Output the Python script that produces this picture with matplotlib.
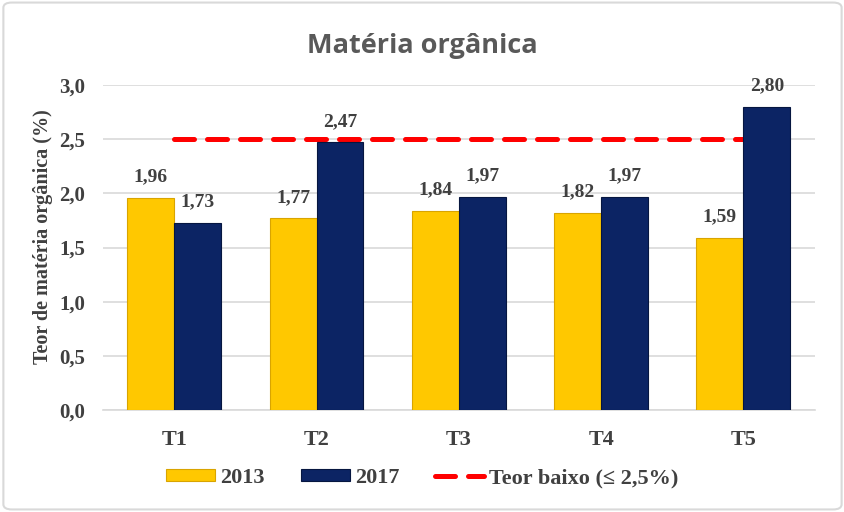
import matplotlib.pyplot as plt
import numpy as np
from matplotlib.patches import FancyBboxPatch

# Data
categories = ['T1', 'T2', 'T3', 'T4', 'T5']
vals_2013 = [1.96, 1.77, 1.84, 1.82, 1.59]
vals_2017 = [1.73, 2.47, 1.97, 1.97, 2.80]
limit = [2.5, 2.5, 2.5, 2.5, 2.5]
yticks = [0.0, 0.5, 1.0, 1.5, 2.0, 2.5, 3.0]

SERIF = 'Liberation Serif'
GRAY = '#404040'

fig = plt.figure(figsize=(8.45, 5.12), dpi=100)
ax = fig.add_axes([0.122, 0.199, 0.842, 0.635])

# chart border
fig.patches.append(FancyBboxPatch((0.004, 0.005), 0.992, 0.99,
                                  boxstyle='round,pad=0,rounding_size=0.01',
                                  transform=fig.transFigure, fill=False,
                                  edgecolor='#D9D9D9', linewidth=1.5))

x = np.arange(len(categories))
w = 0.33

b1 = ax.bar(x - w / 2, vals_2013, w, color='#FFC800', edgecolor='#D9A400',
            linewidth=0.8, zorder=3, label='2013')
b2 = ax.bar(x + w / 2, vals_2017, w, color='#0C2464', edgecolor='#061640',
            linewidth=0.8, zorder=3, label='2017')
ax.plot(x, limit, color='#FF0000', linewidth=3.6, dashes=(4, 2.6),
        dash_capstyle='round', zorder=2, label='Teor baixo (\u2264 2,5%)')

for bars, vals in ((b1, vals_2013), (b2, vals_2017)):
    for b, v in zip(bars, vals):
        ax.annotate('{:.2f}'.format(v).replace('.', ','),
                    (b.get_x() + b.get_width() / 2, v), xytext=(0, 9),
                    textcoords='offset points', ha='center', va='bottom',
                    fontsize=14, fontweight='bold', family=SERIF, color=GRAY)

ax.set_xlim(-0.5, 4.5)
ax.set_ylim(0, 3.0)
ax.set_yticks(yticks)
ax.set_yticklabels(['{:.1f}'.format(t).replace('.', ',') for t in yticks],
                   fontsize=15, fontweight='bold', family=SERIF, color=GRAY)
ax.set_xticks(x)
ax.set_xticklabels(categories, fontsize=16, fontweight='bold', family=SERIF, color=GRAY)
ax.tick_params(axis='y', length=0, pad=13)
ax.tick_params(axis='x', length=0, pad=14)
ax.grid(axis='y', color='#D9D9D9', linewidth=1.2, zorder=0)
for s in ['top', 'right', 'left']:
    ax.spines[s].set_visible(False)
ax.spines['bottom'].set_color('#D9D9D9')
ax.spines['bottom'].set_linewidth(1.2)

ax.set_ylabel('Teor de matéria orgânica (%)', fontsize=14.5, fontweight='bold',
              family=SERIF, color=GRAY)
ax.yaxis.set_label_coords(-0.07, 0.535)

fig.text(0.5, 0.91, 'Matéria orgânica', ha='center', va='center', fontsize=19.5,
         fontweight='bold', family='Open Sans', color='#595959')

handles, labels = ax.get_legend_handles_labels()
order = [1, 2, 0]
leg = fig.legend([handles[i] for i in order], [labels[i] for i in order],
                 loc='center', bbox_to_anchor=(0.5, 0.066), ncol=3, frameon=False,
                 prop={'family': SERIF, 'weight': 'bold', 'size': 16},
                 handlelength=2.2, handleheight=0.45, columnspacing=1.6, handletextpad=0.25)
for t in leg.get_texts():
    t.set_color(GRAY)

fig.savefig('out.png', dpi=100)
